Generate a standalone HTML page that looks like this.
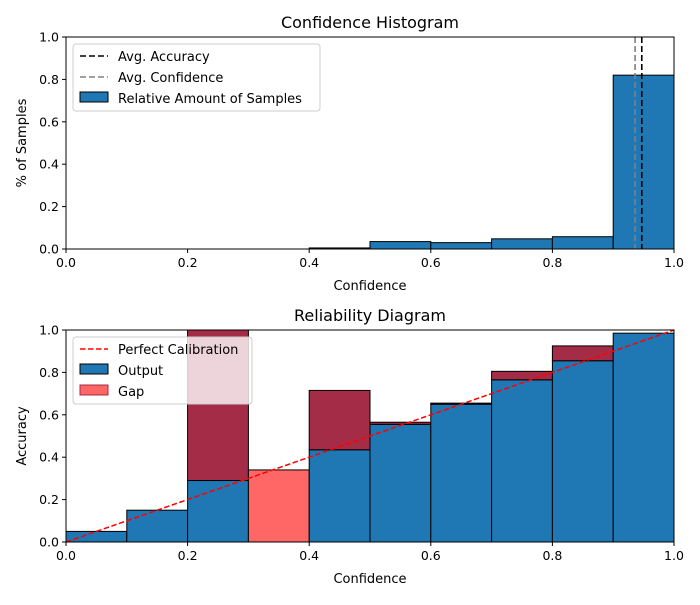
<!DOCTYPE html>
<html><head><meta charset="utf-8"><style>
body{margin:0;background:#fff;font-family:"Liberation Sans","DejaVu Sans",sans-serif}
svg text{font-family:"DejaVu Sans","Liberation Sans",sans-serif}
</style></head><body>
<svg id="c" width="700" height="600" xmlns="http://www.w3.org/2000/svg"></svg>
<script>
const binEdges=[0,0.1,0.2,0.3,0.4,0.5,0.6,0.7,0.8,0.9];
const histValues=[0,0,0,0,0.005,0.035,0.03,0.048,0.058,0.82];
const avgAccuracy=0.947;
const avgConfidence=0.936;
const outputValues=[0.05,0.15,0.29,0,0.435,0.555,0.65,0.765,0.855,0.985];
const gapTops=[0.05,0.15,1.0,0.34,0.715,0.565,0.655,0.805,0.925,0.985];
const xTicks=["0.0","0.2","0.4","0.6","0.8","1.0"];
const yTicks=["0.0","0.2","0.4","0.6","0.8","1.0"];
const NS="http://www.w3.org/2000/svg",svg=document.getElementById('c');
function el(t,a,p){const e=document.createElementNS(NS,t);for(const k in a)e.setAttribute(k,a[k]);(p||svg).appendChild(e);return e;}
function txt(s,a,p){const e=el('text',a,p);e.textContent=s;return e;}
const L=66,R=674;
function sx(v){return L+v*(R-L);}
function axes(top,bot,title,ylab,name){
  const g=el('g',{});
  
  
  const sy=v=>bot-v*(bot-top);
  return {g,sy,top,bot,title,ylab};
}
function frame(a){
  const {g,sy,top,bot}=a;
  el('rect',{x:L,y:top,width:R-L,height:bot-top,fill:'none',stroke:'#000','stroke-width':1},g);
  xTicks.forEach(t=>{const x=sx(+t);el('line',{x1:x,x2:x,y1:bot,y2:bot+4,stroke:'#000'},g);
    const e=txt(t,{x:x,y:bot+18,'font-size':12.5,'text-anchor':'middle'},g);});
  yTicks.forEach(t=>{const y=sy(+t);el('line',{x1:L-4,x2:L,y1:y,y2:y,stroke:'#000'},g);
    const e=txt(t,{x:L-7,y:y+4.5,'font-size':12.5,'text-anchor':'end'},g);});
  let e=txt(a.title,{x:(L+R)/2,y:top-9,'font-size':16,'text-anchor':'middle'},g);
  e=txt('Confidence',{x:(L+R)/2,y:bot+41,'font-size':13,'text-anchor':'middle'},g);
  const cy=(top+bot)/2;
  e=txt(a.ylab,{x:26,y:cy,'font-size':13,'text-anchor':'middle',transform:`rotate(-90 26 ${cy})`},g);
}
// top
const A=axes(37,249,'Confidence Histogram','% of Samples','confidence-histogram');
binEdges.forEach((b,i)=>{if(histValues[i]<=0)return;const y=A.sy(histValues[i]);
  const r=el('rect',{x:sx(b),y:y,width:sx(b+0.1)-sx(b),height:A.bot-y,fill:'#1f77b4',stroke:'#000','stroke-width':1},A.g);
  });
let ln=el('line',{x1:sx(avgConfidence),x2:sx(avgConfidence),y1:A.top,y2:A.bot,stroke:'#808080','stroke-width':1.6,'stroke-dasharray':'6,3'},A.g);

ln=el('line',{x1:sx(avgAccuracy),x2:sx(avgAccuracy),y1:A.top,y2:A.bot,stroke:'#000','stroke-width':1.6,'stroke-dasharray':'6,3'},A.g);

frame(A);
// top legend
let lg=el('g',{},A.g);
el('rect',{x:73,y:44,width:247,height:67,rx:3,fill:'rgba(255,255,255,0.8)',stroke:'#ccc'},lg);
el('line',{x1:80,x2:108,y1:56,y2:56,stroke:'#000','stroke-width':1.6,'stroke-dasharray':'6,3'},lg);
txt('Avg. Accuracy',{x:118,y:61,'font-size':13},lg);
el('line',{x1:80,x2:108,y1:77,y2:77,stroke:'#808080','stroke-width':1.6,'stroke-dasharray':'6,3'},lg);
txt('Avg. Confidence',{x:118,y:82,'font-size':13},lg);
el('rect',{x:80,y:92,width:28,height:10,fill:'#1f77b4',stroke:'#000'},lg);
txt('Relative Amount of Samples',{x:118,y:103,'font-size':13},lg);
// bottom
const B=axes(330,542,'Reliability Diagram','Accuracy','reliability-diagram');
binEdges.forEach((b,i)=>{const x=sx(b),w=sx(b+0.1)-x;
  if(outputValues[i]>0){const y=B.sy(outputValues[i]);
    const r=el('rect',{x:x,y:y,width:w,height:B.bot-y,fill:'#1f77b4',stroke:'#000','stroke-width':1},B.g);
    }
  const lo=Math.min(outputValues[i],gapTops[i]),hi=Math.max(outputValues[i],gapTops[i]);
  if(hi-lo>0.001){const y1=B.sy(hi),y0=B.sy(lo);
    const r=el('rect',{x:x,y:y1,width:w,height:y0-y1,fill:outputValues[i]>0?'#a52c47':'#ff6666',stroke:'#000','stroke-width':1},B.g);
    }
});
ln=el('line',{x1:sx(0),y1:B.sy(0),x2:sx(1),y2:B.sy(1),stroke:'#ff0000','stroke-width':1.5,'stroke-dasharray':'5.5,2.5'},B.g);

frame(B);
lg=el('g',{},B.g);
el('rect',{x:73,y:337,width:179,height:67,rx:3,fill:'rgba(255,255,255,0.8)',stroke:'#ccc'},lg);
el('line',{x1:80,x2:108,y1:349,y2:349,stroke:'#ff0000','stroke-width':1.5,'stroke-dasharray':'5.5,2.5'},lg);
txt('Perfect Calibration',{x:118,y:354,'font-size':13},lg);
el('rect',{x:80,y:364,width:28,height:10,fill:'#1f77b4',stroke:'#000'},lg);
txt('Output',{x:118,y:375,'font-size':13},lg);
el('rect',{x:80,y:385,width:28,height:10,fill:'#ff6666',stroke:'#a52c47'},lg);
txt('Gap',{x:118,y:396,'font-size':13},lg);
</script>
</body></html>
